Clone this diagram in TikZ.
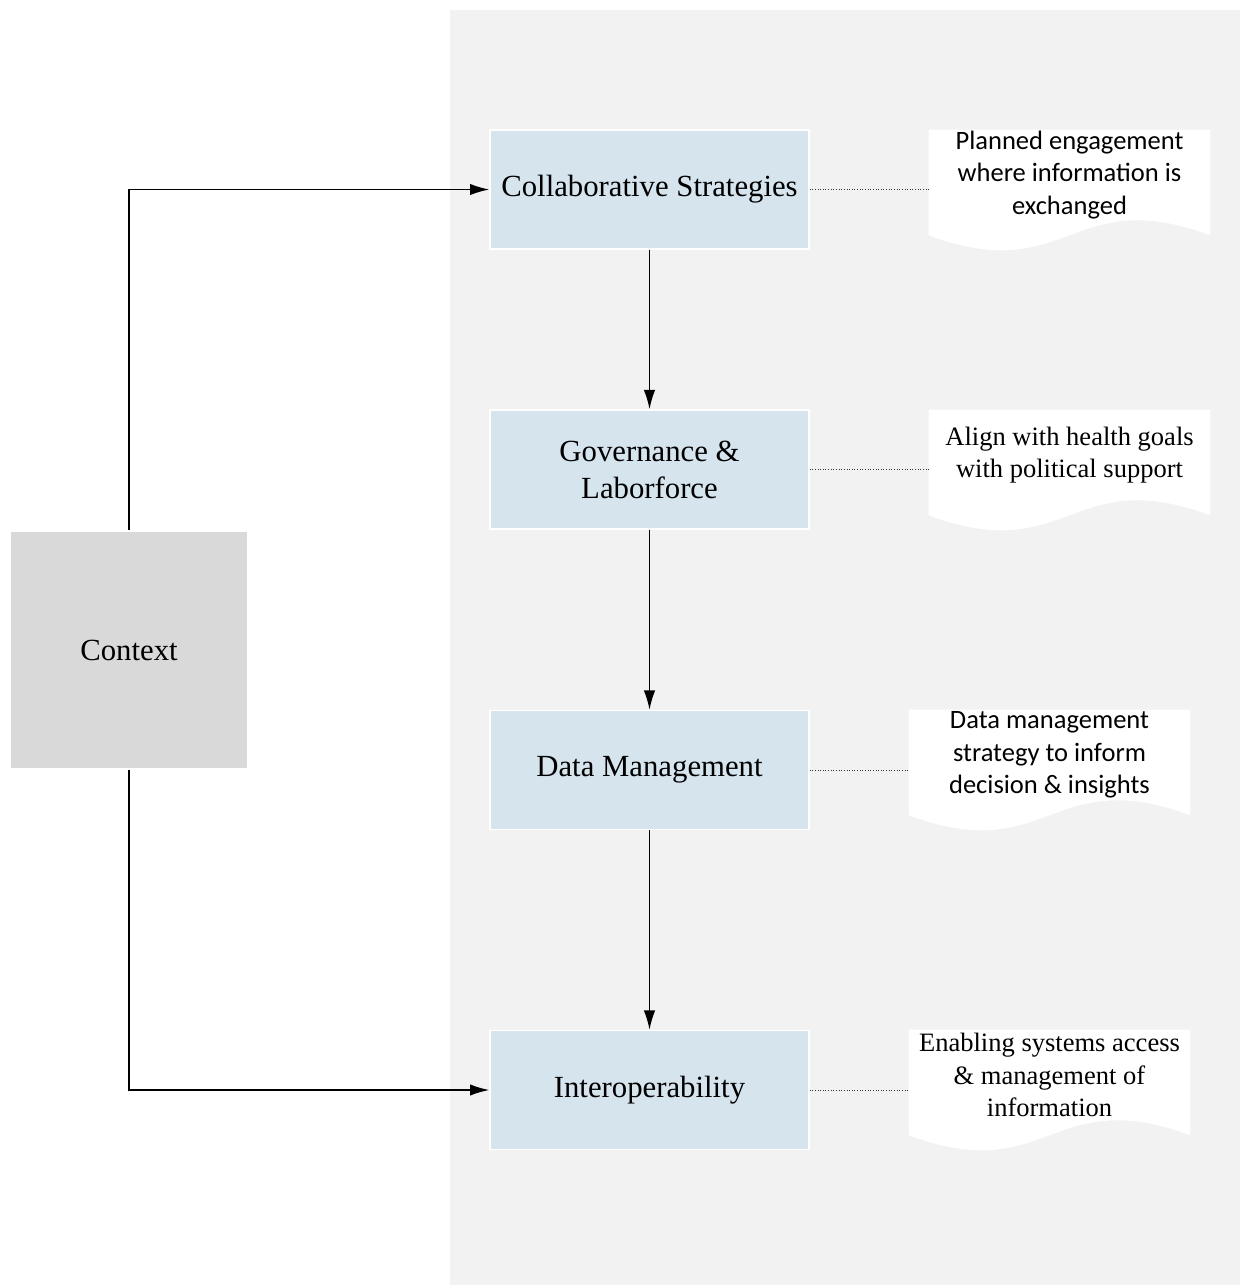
\documentclass[tikz,border=0pt]{standalone}
\usepackage{fontspec}
\setmainfont{Liberation Serif}
\newfontfamily\calibri{Carlito}
\usetikzlibrary{arrows.meta,backgrounds}
\definecolor{panelgray}{RGB}{242,242,242}
\definecolor{ctxgray}{RGB}{217,217,217}
\definecolor{stageblue}{RGB}{214,228,238}
\tikzset{
  stage/.style={draw=white,line width=0.8pt,fill=stageblue,minimum width=6.38cm,minimum height=2.38cm,inner sep=0pt,align=center,font=\fontsize{17.5}{21}\selectfont},
  note/.style={minimum width=5.62cm,minimum height=1.8cm,inner sep=0pt,align=center,font=\fontsize{15.1}{18.4}\selectfont},
  sansnote/.style={note,font=\calibri\fontsize{15.1}{18.4}\selectfont},
  flow/.style={-{Latex[length=11pt,width=6.5pt]},line width=0.9pt},
  tie/.style={densely dotted,line width=0.5pt,black!80}
}
\newcommand{\docfill}[1]{%
  \fill[white](#1.north west)--(#1.north east)--([yshift=-8.5pt]#1.south east)
    .. controls +(-140.5,-52) and +(140.5,52) .. ([yshift=-8.5pt]#1.south west)--cycle;}
\begin{document}
\begin{tikzpicture}[x=0.02cm,y=-0.02cm]
\useasboundingbox(0,0)rectangle(1240,1285);
\node[draw=white,line width=0.8pt,fill=ctxgray,minimum size=4.76cm,font=\fontsize{17.5}{21}\selectfont](ctx)at(129,650){Context};
\node[stage](cs)at(649.5,189.5){Collaborative Strategies};
\node[stage](gl)at(649.5,469.5){Governance \&\\Laborforce};
\node[stage](dm)at(649.5,770){Data Management};
\node[stage](io)at(649.5,1090){Interoperability};
\node[sansnote](d1)at(1069.5,175){Planned engagement\\where information is\\exchanged};
\node[note](d2)at(1069.5,455){Align with health goals\\with political support};
\node[sansnote](d3)at(1049.5,755){Data management\\strategy to inform\\decision \& insights};
\node[note](d4)at(1049.5,1075){Enabling systems access\\\& management of\\information};
\begin{scope}[on background layer]
\fill[panelgray](450,10)rectangle(1240,1285);
\docfill{d1}\docfill{d2}\docfill{d3}\docfill{d4}
\end{scope}
\draw[flow](ctx.north)|-(cs.west);
\draw[flow](ctx.south)|-(io.west);
\draw[flow](cs)--(gl);
\draw[flow](gl)--(dm);
\draw[flow](dm)--(io);
\draw[tie](cs.east)--(cs.east-|d1.west);
\draw[tie](gl.east)--(gl.east-|d2.west);
\draw[tie](dm.east)--(dm.east-|d3.west);
\draw[tie](io.east)--(io.east-|d4.west);
\end{tikzpicture}
\end{document}
